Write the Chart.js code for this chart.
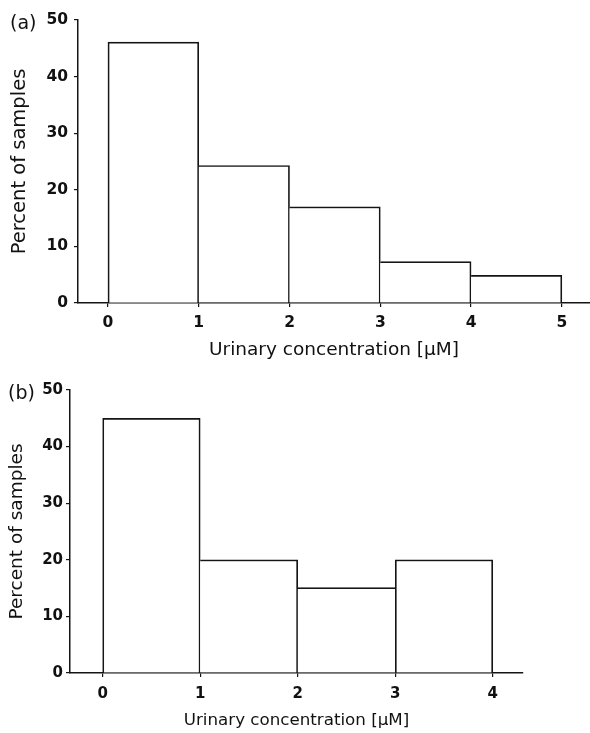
<!DOCTYPE html>
<html>
<head>
<meta charset="utf-8">
<script src="https://cdn.jsdelivr.net/npm/chart.js@4.4.0/dist/chart.umd.min.js"></script>
<style>
  html, body { margin: 0; padding: 0; background: #fff; }
  body { width: 590px; height: 733px; position: relative; overflow: hidden; font-family: "DejaVu Sans", sans-serif; }
  .panel { position: absolute; left: 0; }
  .tag { position: absolute; font-size: 19px; color: #111; }
</style>
</head>
<body>
<div class="panel" style="top:0"><canvas id="chartA" width="590" height="365"></canvas></div>
<div class="panel" style="top:365px"><canvas id="chartB" width="590" height="368"></canvas></div>
<span class="tag" style="left:10px; top:11px">(a)</span>
<span class="tag" style="left:8px; top:381px">(b)</span>

<script>
// bin edges and percent of samples per bin
const edgesA = [0, 1, 2, 3, 4, 5];
const percentA = [46.1, 24.3, 17.0, 7.3, 4.9];
const edgesB = [0, 1, 2, 3, 4];
const percentB = [45.0, 20.0, 15.1, 20.0];

const xTicksA = [0, 1, 2, 3, 4, 5];
const xTicksB = [0, 1, 2, 3, 4];
const yTicks = [0, 10, 20, 30, 40, 50];

const ink = '#141414';
const lw = 1.7;

function toBars(edges, vals) {
    return vals.map((v, i) => ({ x: (edges[i] + edges[i + 1]) / 2, y: v }));
}

// a shared edge between two bins is drawn once, by the taller bin
function edgeWidths(vals) {
    return c => {
        const i = c.dataIndex;
        const left = (i === 0 || vals[i - 1] < vals[i]) ? lw : 0;
        const right = (i === vals.length - 1 || vals[i + 1] <= vals[i]) ? lw : 0;
        return { top: lw, right: right, bottom: 0, left: left };
    };
}

function makeHist(id, edges, vals, xTicks, o) {
    return new Chart(document.getElementById(id), {
        type: 'bar',
        data: {
            datasets: [{
                data: toBars(edges, vals),
                backgroundColor: '#fff',
                borderColor: ink,
                borderWidth: edgeWidths(vals),
                borderSkipped: false,
                barPercentage: 1,
                categoryPercentage: 1
            }]
        },
        options: {
            responsive: false,
            animation: false,
            layout: { padding: { left: 0, top: o.top, right: o.right, bottom: 0 } },
            plugins: { legend: { display: false }, tooltip: { enabled: false } },
            scales: {
                x: {
                    type: 'linear',
                    offset: false,
                    min: o.xmin,
                    max: o.xmax,
                    afterBuildTicks: s => { s.ticks = xTicks.map(v => ({ value: v })); },
                    afterFit: s => { s.height = o.xh; },
                    grid: { display: true, offset: false, drawOnChartArea: false, drawTicks: true, tickLength: 4, color: ink, lineWidth: 1.2 },
                    border: { display: true, color: ink, width: 1.5 },
                    ticks: { color: '#111', padding: o.xpad, font: { family: 'DejaVu Sans', size: o.tick, weight: 'bold' }, maxRotation: 0 },
                    title: { display: true, text: 'Urinary concentration [µM]', color: '#111',
                             font: { family: 'DejaVu Sans', size: o.xt }, padding: { top: 0, bottom: o.xtb } }
                },
                y: {
                    min: 0,
                    max: 50,
                    afterBuildTicks: s => { s.ticks = yTicks.map(v => ({ value: v })); },
                    afterFit: s => { s.width = o.yw; },
                    grid: { display: true, drawOnChartArea: false, drawTicks: true, tickLength: 4, color: ink, lineWidth: 1.2 },
                    border: { display: true, color: ink, width: 1.5 },
                    ticks: { color: '#111', padding: o.ypad, font: { family: 'DejaVu Sans', size: o.tick, weight: 'bold' } },
                    title: { display: true, text: 'Percent of samples', color: '#111',
                             font: { family: 'DejaVu Sans', size: o.yt }, padding: { top: o.ytp, bottom: 0 } }
                }
            }
        }
    });
}

makeHist('chartA', edgesA, percentA, xTicksA, {
    top: 20, right: 0, xmin: -0.33, xmax: 5.31, xh: 62, yw: 78,
    tick: 15.5, xpad: 7, ypad: 6, xt: 18.5, xtb: 4, yt: 19.5, ytp: 8
});
makeHist('chartB', edgesB, percentB, xTicksB, {
    top: 25, right: 67, xmin: -0.335, xmax: 4.31, xh: 60, yw: 70,
    tick: 15, xpad: 8, ypad: 3, xt: 16.7, xtb: 2, yt: 18.5, ytp: 6
});
</script>
</body>
</html>
